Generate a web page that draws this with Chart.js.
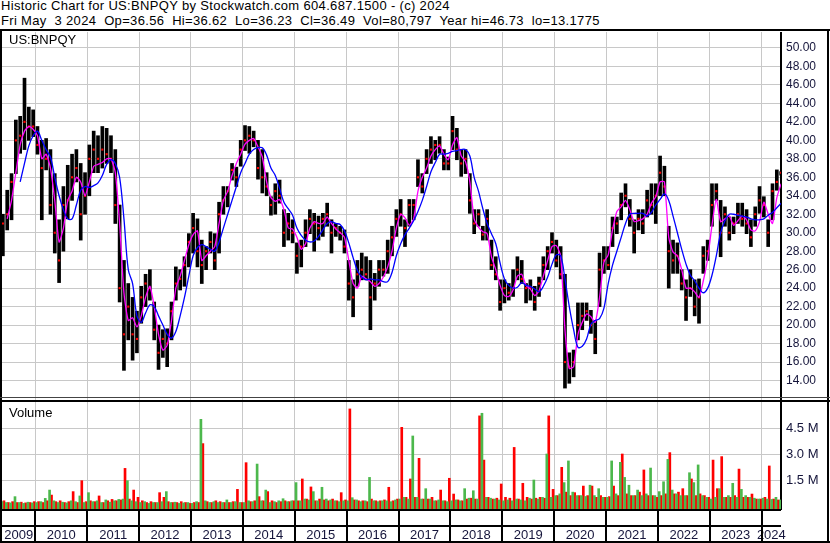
<!DOCTYPE html>
<html>
<head>
<meta charset="utf-8">
<title>Historic Chart for US:BNPQY</title>
<script src="https://cdn.jsdelivr.net/npm/chart.js@4.4.1/dist/chart.umd.min.js"></script>
<style>
  html, body { margin: 0; padding: 0; background: #fff; }
  #wrap { position: relative; width: 830px; height: 543px; overflow: hidden;
          font-family: "Liberation Sans", Arial, sans-serif; color: #000; }
  .txt { position: absolute; font-size: 13px; line-height: 15px; white-space: pre; z-index: 5; }
  .hdr { letter-spacing: 0.33px; }
  .rule { position: absolute; background: #000; z-index: 4; }
  canvas { position: absolute; left: 0; }
</style>
</head>
<body>
<div id="wrap">
  <div class="txt hdr" style="left:1px; top:-2px;">Historic Chart for US:BNPQY by Stockwatch.com 604.687.1500 - (c) 2024</div>
  <div class="txt hdr" style="left:1px; top:13px;">Fri May  3 2024  Op=36.56  Hi=36.62  Lo=36.23  Cl=36.49  Vol=80,797  Year hi=46.73  lo=13.1775</div>

  <canvas id="priceChart" width="830" height="368" style="top:32px; width:830px; height:368px;"></canvas>
  <canvas id="volumeChart" width="830" height="141" style="top:402px; width:830px; height:141px;"></canvas>

  <div class="txt" style="left:9px; top:32px;">US:BNPQY</div>
  <div class="txt" style="left:9px; top:405px;">Volume</div>

  <!-- frame -->
  <div class="rule" style="left:0; top:29px; width:830px; height:2px;"></div>
  <div class="rule" style="left:0; top:31px; width:2px; height:512px;"></div>
  <div class="rule" style="left:827px; top:31px; width:2px; height:512px;"></div>
  <div class="rule" style="left:0; top:397px; width:830px; height:1px; background:#444;"></div>
  <div class="rule" style="left:0; top:400px; width:830px; height:2px;"></div>
  <div class="rule" style="left:0; top:541px; width:830px; height:2px;"></div>
</div>

<script>
// months run from May 2009 to May 2024, one value per month
const firstYear = 2009;
const firstMonth = 5;

// monthly price range (USD)
const priceHigh = [
  32, 34.6, 36.4, 42.2, 42.6, 46.73, 43.6, 43.3,                       // 2009 May-Dec
  41.5, 40, 40.2, 39, 36.4, 31.4, 35, 37.3, 38.5, 39, 37.5, 36.5,      // 2010
  39.5, 41, 40.5, 41.5, 41.3, 40.5, 39, 33, 27, 24.5, 23, 21.5,        // 2011
  24.2, 25.5, 26, 22.5, 20, 19.5, 19.6, 22.5, 26.3, 26, 27.4, 29.9,    // 2012
  32.1, 31.5, 29.2, 28.5, 30.1, 29.9, 33.3, 35, 35, 37.5, 37.1, 40,    // 2013
  41.6, 41.5, 41, 40, 39, 36.5, 33.9, 35.3, 35.7, 32.5, 32.1, 31.4,    // 2014
  28.9, 29.2, 31.4, 32.5, 32.1, 31.8, 32.1, 33.2, 31.4, 31, 30.7, 30.3,// 2015
  27, 24.9, 27, 27.8, 27.4, 27, 25.6, 27, 27, 29.2, 30.7, 32.5,        // 2016
  33.6, 31.4, 33.6, 33.6, 37.9, 36.4, 39, 40.4, 40, 40.4, 39, 38.2,    // 2017
  42.6, 41.3, 39, 39, 36.4, 32.5, 32.5, 30.7, 32.5, 29.2, 27.4, 24.9,  // 2018
  24.9, 24.5, 26, 27.4, 27, 24.5, 24.9, 24.2, 25.2, 27.4, 28.5, 30,    // 2019
  29.2, 28.5, 25.5, 17, 17.3, 22.4, 22.4, 22.4, 21.6, 20.5, 27.8, 28.5,// 2020
  28.5, 31.7, 31.7, 34.3, 35.3, 33.6, 31.4, 32.5, 32.5, 34.6, 35.3, 35.3, // 2021
  38.3, 37.2, 30.7, 29.2, 28.9, 26, 24.9, 26, 24.9, 25, 28.5, 29.2,    // 2022
  35.3, 35.3, 33.5, 32.8, 31.7, 31.7, 33.2, 33.2, 32.5, 31.4, 32.8, 35,// 2023
  33.9, 31.4, 35.3, 36.8, 36.62                                        // 2024 Jan-May
];
const priceLow = [
  27.5, 30.3, 31.4, 36.4, 38.6, 39, 40, 40.4,
  38.5, 31.4, 36.8, 32, 27.8, 24.6, 28, 31.5, 33.5, 35.5, 29.2, 32,
  34, 36.5, 36.5, 37, 37.5, 36.5, 31, 22.5, 15.1, 18.4, 16.2, 17,
  20.2, 22, 22.7, 18.4, 15.2, 16.5, 15.5, 18.4, 22.7, 23.8, 24.2, 26.3,
  27.8, 26.3, 24.5, 26, 27.8, 26, 27.8, 32, 32.8, 35.7, 35, 37.2,
  38.9, 38.6, 39.3, 35.8, 34.3, 34, 31.9, 32, 33.2, 28.5, 29.2, 28.9,
  25.6, 26.3, 28.5, 29.9, 28, 29.2, 29.6, 30.7, 27.8, 29.6, 29.2, 27.8,
  22.7, 20.9, 24.2, 24.9, 24.9, 19.5, 22.7, 24.2, 25.3, 25.6, 27.5, 29.6,
  30.7, 28.5, 30.7, 31.4, 35, 34.3, 36.4, 37.5, 37.9, 38.6, 36.8, 36.8,
  39, 37.9, 36.1, 36.4, 32.1, 29.9, 30.7, 29.2, 29.2, 26, 24.9, 21.6,
  22.4, 22.7, 23.1, 24.9, 24.5, 22.4, 22.7, 21.6, 23.1, 24.9, 26, 27.8,
  26.3, 25, 13.18, 13.7, 14.4, 18.4, 19.5, 20.5, 19.1, 16.9, 22, 25.6,
  26, 28.5, 29.9, 31.4, 32.8, 30.7, 27.8, 30.3, 29.9, 31.7, 32, 31,
  34, 34, 24, 25.6, 25.6, 23.8, 20.5, 23.1, 21, 20.2, 25.6, 27,
  30.7, 33.5, 27.4, 30.7, 29.2, 29.9, 31, 30.7, 29.9, 28.5, 30.7, 32.1,
  31.7, 28.5, 31.4, 34.6, 36.23
];
const priceClose = [
  31, 32, 35.5, 40, 40.5, 42, 41.5, 41.5,
  39.5, 37, 38, 33, 30, 27, 33, 33.5, 36, 37, 32, 34,
  38, 39, 38, 39, 38.5, 38, 33, 24, 19, 22, 19, 18.5,
  23, 24.5, 24, 19.5, 17, 18.5, 18, 21.5, 24.5, 25, 26.5, 29,
  30.5, 28, 26.5, 28, 29, 27, 32, 33.5, 34.5, 36.8, 36, 39,
  40, 40.5, 40, 37, 36, 35, 33, 34.5, 34, 30, 31, 30,
  27.5, 28.5, 30, 31.5, 31, 30.5, 31.5, 32, 30, 30.5, 30, 28.5,
  24.5, 23, 25.5, 26, 25.5, 23, 24.5, 26, 26, 28, 29.5, 31.5,
  32, 30.5, 33, 33, 36, 35, 38, 39, 39.5, 39.5, 37.5, 37.5,
  41, 39, 37.5, 38, 33.5, 31, 32, 29.8, 31.5, 26.5, 25.5, 22.5,
  24, 23.5, 24, 26, 25, 24, 24, 22.5, 24.5, 26.5, 28, 29,
  27, 25.5, 16, 15.5, 16, 20, 21, 21.5, 20, 18.5, 26, 27,
  26.5, 30.5, 31, 33, 34, 31.5, 30, 31.5, 31, 33.5, 33, 34,
  36.5, 35, 28, 27, 27.5, 24.5, 23, 24, 22, 23, 27.5, 28,
  33, 34.5, 30, 32, 30, 31, 32, 31.5, 31, 29.5, 32, 33.5,
  33, 30, 34.5, 35.5, 36.49
];

// short moving average (magenta)
const maShort = [
  null, 31.5, 33.5, 36.5, 39.5, 41, 41.5, 41.2,
  40.5, 38, 38.5, 37, 33.5, 29, 30.5, 33.5, 34.5, 36, 35.5, 34,
  35.5, 37.2, 37.4, 37.6, 38, 38, 36.5, 31, 23.5, 20.5, 20.8, 19.8,
  21, 23, 24.2, 22, 19, 17.3, 17.8, 20.5, 24, 25.3, 27, 28.7,
  29.8, 30.2, 27, 27.5, 28, 28.5, 31, 33.5, 34.5, 36.2, 37.5, 38.5,
  39.6, 40, 40.2, 39.3, 38.2, 35.5, 33.8, 33.4, 33.6, 32.5, 30.5, 30.4,
  29.5, 28.2, 28.8, 30.5, 31.2, 31, 31, 31.7, 31, 30.4, 30, 29.5,
  27, 24.5, 24, 25.3, 25, 24.7, 24.2, 24.5, 25.2, 26.3, 28, 30.5,
  32, 31.6, 30.8, 31.5, 34.5, 36, 37, 38.3, 39, 39.4, 38.5, 37.9,
  39.5, 40.3, 38.3, 37.7, 35.5, 31.5, 30.6, 30.1, 29.9, 27.4, 26, 24.3,
  23.2, 23.1, 23.8, 25.3, 25.5, 24.3, 23.9, 23.2, 23.7, 25.3, 27, 28.5,
  28.6, 27.5, 19.5, 15.3, 15.5, 19, 20.3, 21.2, 20.9, 20.3, 23, 26.8,
  27.6, 30.3, 32.3, 32.8, 33.5, 32.5, 31.2, 31.3, 31.5, 32, 33.2, 33.9,
  35.5, 35.5, 29.5, 27.9, 27.5, 26, 24, 24, 23.6, 23, 24.8, 27.2,
  30.8, 33.6, 31.2, 31.5, 31.8, 30.8, 31.3, 31.8, 31.4, 30.3, 30.2, 31.2,
  33.3, 32, 31, 33.8, 35.3
];
// long moving average (blue)
const maLong = [
  null, null, null, null, 35.5, 37.5, 39.4, 40.5,
  41, 40, 39, 38.2, 36, 34, 32.5, 31.5, 31.5, 33, 34.6, 35,
  34.9, 35.1, 35.4, 36.2, 37.4, 37.9, 37.5, 36, 31.5, 26, 24.5, 21,
  20.3, 21.3, 22.2, 22, 21, 20, 19, 18.6, 19.3, 21, 23, 25.3,
  27.5, 28.4, 28.7, 28.5, 28.2, 28, 29, 30.5, 32, 33.5, 35, 36.5,
  37.5, 38.5, 39, 39.2, 39.2, 38.4, 37, 36.2, 34.8, 33.3, 32.6, 31.9,
  30.5, 29.7, 29.2, 29, 29.1, 29.6, 30.3, 31, 31.2, 31, 30.9, 30.2,
  28.9, 27.3, 25.9, 25.2, 24.9, 25, 24.9, 24.9, 24.7, 24.7, 25.7, 27.5,
  28.8, 29.8, 30.5, 31.3, 32.3, 33.5, 35, 36.6, 37.6, 38.5, 38.5, 38.6,
  38.8, 38.9, 39, 39, 38.3, 36, 34.5, 32.6, 31, 29.9, 28.8, 26.7,
  25, 24.3, 24, 24.1, 24.6, 24.3, 24.2, 23.9, 23.6, 24.2, 25.2, 26.6,
  27.6, 27.5, 25, 22, 19.5, 17.6, 17.7, 18.5, 20.1, 20.5, 20.7, 21.8,
  24.5, 26.5, 28, 29.5, 31, 32, 32.1, 32.1, 32.1, 31.8, 32.2, 33,
  33.6, 34.2, 33.5, 31.8, 30, 28.2, 26.6, 25.4, 24.8, 24, 23.5, 24,
  25.4, 27.5, 30, 31.3, 32, 32, 31.9, 31.8, 31.7, 31.5, 31.4, 31.4,
  31.5, 31.9, 32.2, 32.7, 33.2
];

// volume in millions of shares: up days (green) and down days (red)
const volumeUp = [
  .25, .2, .18, .54, .2, .15, .22, .18,
  .2, .25, .44, .92, .3, .2, .22, .18, .3, .25, .58, .2,
  .77, .25, .3, .2, .35, .22, .3, .38, .4, 1.46, .3, .25,
  .2, .25, .15, .2, .2, .25, .83, .2, .22, .15, .18, .2,
  .15, .25, 5.0, .3, .2, .25, .2, .2, .35, .2, .25, .2,
  .2, .3, .25, 2.42, .3, .92, .2, .25, .3, .42, .25, .3,
  1.35, .3, .4, .35, .83, .3, 1.08, .4, .35, .3, .25, .3,
  .3, .48, .35, .25, .3, 1.65, .3, .25, .3, .3, .25, .35,
  .4, .5, .4, 4.04, .5, .4, 1.0, .4, .3, .35, .3, .25,
  .3, .35, .3, 1.0, .45, .88, .4, 5.35, .5, .45, .4, .35,
  .3, .35, .3, .4, .35, .3, .45, 1.5, .4, .5, 3.0, .5,
  .6, .7, 1.35, 2.6, .8, .6, .6, .55, 1.2, .6, 1.0, .5,
  .5, 2.6, .7, 2.52, 1.65, 1.2, .6, .92, .6, .7, 2.19, .6,
  .83, 1.4, 2.69, .92, .7, .6, .6, 1.92, 1.35, 2.37, .6, .5,
  .4, .5, 1.0, .5, .6, 1.31, .5, .96, .6, .5, .45, .4,
  .45, .4, .38, .5, .35
];
const volumeDown = [
  .3, .2, .25, .2, .22, .18, .2, .25,
  .25, .2, .3, .63, .25, .3, .2, .25, .83, .2, 1.46, .25,
  .3, .25, .58, .2, .3, .38, .3, .35, 2.17, .4, .92, .5,
  .3, .2, .25, .2, .77, .5, .25, .2, .2, .25, .2, .15,
  .2, .2, 3.6, .25, .2, .3, .25, .2, .2, .25, .96, .2,
  2.5, .25, .3, .54, .3, .83, .3, .2, .25, .3, .25, .3,
  .3, 1.56, .4, 1.1, .3, .4, .35, .3, .4, .3, .77, .35,
  5.6, .35, .3, .3, .25, .4, .3, .3, .35, 1.08, .3, .4,
  4.54, .5, 1.56, .5, 2.75, .4, .4, .5, .3, .92, .3, 1.6,
  .69, .35, .3, .4, .45, .4, 5.2, 2.65, .5, .4, .45, 1.27,
  .5, .45, 3.38, .4, 1.31, .5, .4, .45, .5, .45, 5.2, .96,
  .6, 2.23, .8, .6, .77, .6, 1.15, .6, 1.15, .5, .6, .5,
  .54, 1.15, .6, 3.0, .7, .6, .6, .8, 2.08, .6, .6, .5,
  .6, .7, 3.08, .7, .8, 1.0, .6, 1.56, .6, .7, .6, .5,
  2.65, 1.0, 2.85, .5, .5, .6, 2.13, .5, .5, .69, .4, .4,
  .5, 2.31, .4, .35, .3
];

// axis ticks and labels
const yearTicks = [2010, 2011, 2012, 2013, 2014, 2015, 2016, 2017, 2018, 2019, 2020, 2021, 2022, 2023, 2024];
const yearLabels = ['2009', '2010', '2011', '2012', '2013', '2014', '2015', '2016', '2017', '2018', '2019', '2020', '2021', '2022', '2023', '2024'];
const priceTicks = [14, 16, 18, 20, 22, 24, 26, 28, 30, 32, 34, 36, 38, 40, 42, 44, 46, 48, 50];
const volumeTicks = [1.5, 3.0, 4.5];

const xMin = 2009.358, xMax = 2024.372; // visible time window
const labelColor = '#14143a';
const gridColor = '#c8c8c8';

Chart.defaults.font.family = "'Liberation Sans', Arial, sans-serif";

/** month index -> decimal year of the month start */
function monthStart(i) {
    return firstYear + (firstMonth - 1 + i) / 12;
}

const rangeData = priceHigh.map((h, i) => ({ x: monthStart(i) + 1 / 24, y: [priceLow[i], h] }));
const closeData = priceClose.map((c, i) => ({ x: monthStart(i) + 1 / 24, y: c }));
const shortData = maShort.map((v, i) => ({ x: monthStart(i) + 1 / 24, y: v }));
const longData = maLong.map((v, i) => ({ x: monthStart(i) + 1 / 24, y: v }));
const upData = volumeUp.map((v, i) => ({ x: monthStart(i) + 0.3 / 12, y: v }));
const downData = volumeDown.map((v, i) => ({ x: monthStart(i) + 0.75 / 12, y: v }));

// year label sits in the middle of its column
const yearMids = yearLabels.map((_, i) => {
    const a = i === 0 ? xMin : yearTicks[i - 1];
    const b = i === yearTicks.length ? xMax : yearTicks[i];
    return (a + b) / 2;
});

const timeGrid = {
    type: 'linear', min: xMin, max: xMax, offset: false,
    afterBuildTicks: s => { s.ticks = yearTicks.map(v => ({ value: v })); },
    grid: { color: gridColor, lineWidth: 1, drawTicks: false, offset: false },
    border: { display: false },
    ticks: { display: false },
    afterFit: s => { s.height = 0; s.paddingLeft = 0; s.paddingRight = 0; }
};

/** price panel */
new Chart(document.getElementById('priceChart'), {
    type: 'bar',
    data: {
        datasets: [
            { type: 'line', label: 'long avg', data: longData, borderColor: '#0000ff', borderWidth: 1.3,
              pointRadius: 0, tension: 0.35, order: 0 },
            { type: 'line', label: 'short avg', data: shortData, borderColor: '#ff00ff', borderWidth: 1.3,
              pointRadius: 0, tension: 0.2, order: 1 },
            { type: 'line', label: 'close', data: closeData, showLine: false, pointStyle: 'rect',
              pointRadius: 1.5, backgroundColor: '#ff0000', borderWidth: 0, order: 2 },
            { type: 'bar', label: 'range', data: rangeData, backgroundColor: '#000', barThickness: 3,
              grouped: false, order: 3 }
        ]
    },
    options: {
        animation: false, responsive: false, events: [],
        layout: { autoPadding: false, padding: { left: 2, right: 0, top: 0, bottom: 0 } },
        plugins: { legend: { display: false }, tooltip: { enabled: false } },
        scales: {
            x: timeGrid,
            y: {
                position: 'right', min: 11.89, max: 51.73,
                afterBuildTicks: s => { s.ticks = priceTicks.map(v => ({ value: v })); },
                ticks: { padding: 5, color: labelColor, font: { size: 12 }, callback: v => v.toFixed(2) },
                grid: { color: gridColor, lineWidth: 1, drawTicks: false },
                border: { color: '#000', width: 2 },
                afterFit: s => { s.width = 49; s.paddingTop = 0; s.paddingBottom = 0; }
            }
        }
    }
});

/** black year band under the volume panel */
const yearBand = {
    id: 'yearBand',
    afterDraw(chart) {
        const { ctx, chartArea } = chart;
        const xs = chart.scales.x;
        const top = chartArea.bottom;
        ctx.save();
        ctx.fillStyle = '#000';
        ctx.fillRect(0, top, chartArea.right, 2);
        ctx.fillRect(0, top + 16, chartArea.right, 2);
        yearTicks.forEach(v => {
            const px = Math.round(xs.getPixelForValue(v));
            ctx.fillRect(px - 1, top, 2, chart.height - top);
        });
        ctx.restore();
    }
};

const volMin = -0.173;

/** volume panel */
new Chart(document.getElementById('volumeChart'), {
    type: 'bar',
    data: {
        datasets: [
            { label: 'up', data: upData, backgroundColor: '#4cb84c', barThickness: 2, grouped: false, base: volMin },
            { label: 'down', data: downData, backgroundColor: '#ff0000', barThickness: 2, grouped: false, base: volMin }
        ]
    },
    options: {
        animation: false, responsive: false, events: [],
        layout: { autoPadding: false, padding: { left: 2, right: 0, top: 0, bottom: 0 } },
        plugins: { legend: { display: false }, tooltip: { enabled: false } },
        scales: {
            x: timeGrid,
            x2: {
                type: 'linear', position: 'bottom', min: xMin, max: xMax, offset: false,
                afterBuildTicks: s => { s.ticks = yearMids.map(v => ({ value: v })); },
                ticks: { autoSkip: false, maxRotation: 0, padding: 19, color: labelColor, font: { size: 13 },
                         callback: (v, i) => yearLabels[i] },
                grid: { display: false, drawTicks: false },
                border: { display: false },
                afterFit: s => { s.height = 34; s.paddingLeft = 0; s.paddingRight = 0; }
            },
            y: {
                position: 'right', min: volMin, max: 6.0,
                afterBuildTicks: s => { s.ticks = volumeTicks.map(v => ({ value: v })); },
                ticks: { padding: 5, color: labelColor, font: { size: 13 }, callback: v => v.toFixed(1) + ' M' },
                grid: { color: gridColor, lineWidth: 1, drawTicks: false },
                border: { color: '#000', width: 2 },
                afterFit: s => { s.width = 49; s.paddingTop = 0; s.paddingBottom = 0; }
            }
        }
    },
    plugins: [yearBand]
});
</script>
</body>
</html>
